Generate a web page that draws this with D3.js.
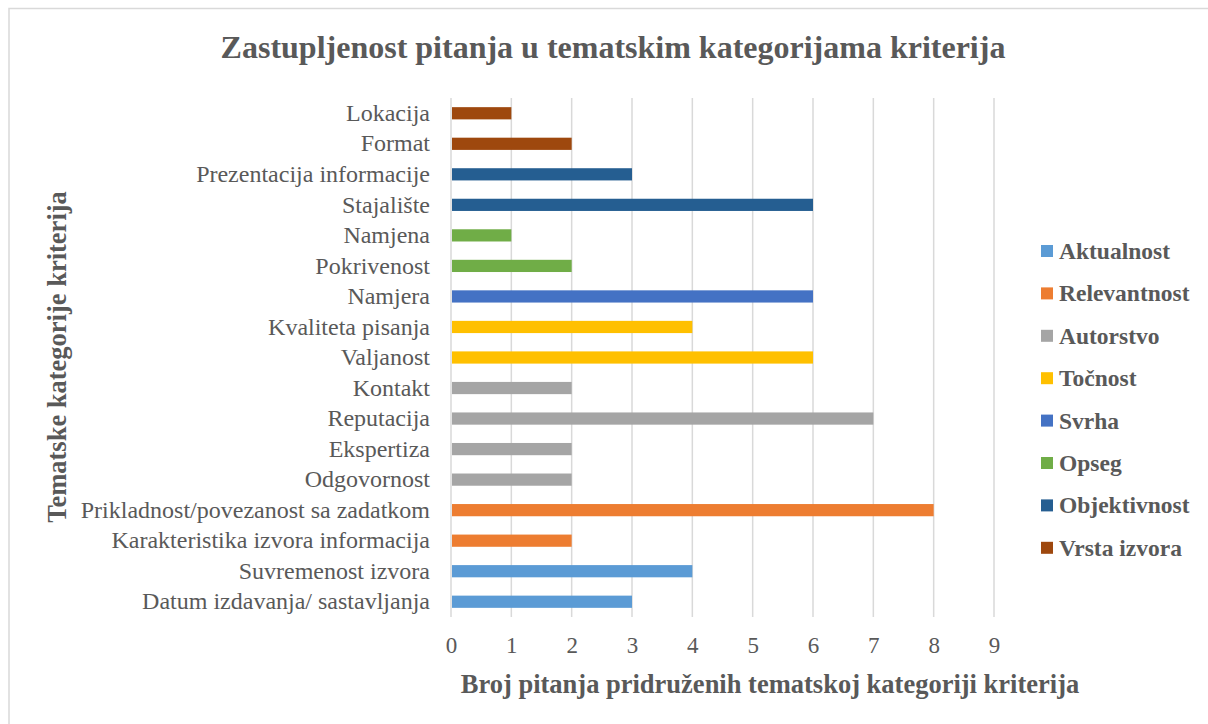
<!DOCTYPE html>
<html>
<head>
<meta charset="utf-8">
<script src="https://cdn.jsdelivr.net/npm/d3@7"></script>
<style>
  body { margin: 0; background: #fff; overflow: hidden; }
  svg text { font-family: "Liberation Serif", "DejaVu Serif", serif !important; fill: #595959; }
</style>
</head>
<body>
<svg id="chart" width="1208" height="724"></svg>
<script>
// categories bottom → top, with their series and values
const categories = [
  'Datum izdavanja/ sastavljanja', 'Suvremenost izvora',
  'Karakteristika izvora informacija', 'Prikladnost/povezanost sa zadatkom',
  'Odgovornost', 'Ekspertiza', 'Reputacija', 'Kontakt',
  'Valjanost', 'Kvaliteta pisanja', 'Namjera',
  'Pokrivenost', 'Namjena', 'Stajalište', 'Prezentacija informacije',
  'Format', 'Lokacija'
];
const categorySeries = [
  'Aktualnost', 'Aktualnost', 'Relevantnost', 'Relevantnost',
  'Autorstvo', 'Autorstvo', 'Autorstvo', 'Autorstvo',
  'Točnost', 'Točnost', 'Svrha', 'Opseg', 'Opseg',
  'Objektivnost', 'Objektivnost', 'Vrsta izvora', 'Vrsta izvora'
];
const values = [3, 4, 2, 8, 2, 2, 7, 2, 6, 4, 6, 2, 1, 6, 3, 2, 1];

const seriesNames = ['Aktualnost', 'Relevantnost', 'Autorstvo', 'Točnost',
                     'Svrha', 'Opseg', 'Objektivnost', 'Vrsta izvora'];
const seriesColors = ['#5B9BD5', '#ED7D31', '#A5A5A5', '#FFC000',
                      '#4472C4', '#70AD47', '#255E91', '#9E480E'];
const xTicks = [0, 1, 2, 3, 4, 5, 6, 7, 8, 9];

const svg = d3.select('#chart');

// chart frame — only top and left edges fall inside the picture
svg.append('rect')
  .attr('x', 9).attr('y', 8.5)
  .attr('width', 1300).attr('height', 800)
  .attr('fill', '#fff')
  .attr('stroke', '#d9d9d9')
  .attr('stroke-width', 1.5);

const plot = { left: 451, right: 994, top: 98, bottom: 617 };

const x = d3.scaleLinear().domain([0, 9]).range([plot.left, plot.right]);
const y = d3.scaleBand()
  .domain(d3.range(categories.length).reverse())
  .range([plot.top, plot.bottom])
  .paddingInner(0.6).paddingOuter(0.3);
const color = d3.scaleOrdinal().domain(seriesNames).range(seriesColors);

// gridlines
svg.append('g')
  .selectAll('line')
  .data(xTicks)
  .join('line')
  .attr('x1', d => x(d)).attr('x2', d => x(d))
  .attr('y1', plot.top).attr('y2', plot.bottom)
  .attr('stroke', '#d9d9d9')
  .attr('stroke-width', 1.5);

// bars
svg.append('g')
  .selectAll('rect')
  .data(values)
  .join('rect')
  .attr('x', x(0) + 1)
  .attr('y', (d, i) => y(i))
  .attr('width', d => x(d) - x(0) - 1)
  .attr('height', y.bandwidth())
  .attr('fill', (d, i) => color(categorySeries[i]));

// x axis tick labels
const xAxis = svg.append('g')
  .attr('transform', `translate(0,${plot.bottom})`)
  .call(d3.axisBottom(x).tickValues(xTicks).tickSize(0).tickPadding(20));
xAxis.select('.domain').remove();
xAxis.selectAll('text')
  .attr('font-size', 23)
  .attr('fill', '#595959');

// y axis category labels
const yAxis = svg.append('g')
  .attr('transform', `translate(${plot.left},0)`)
  .call(d3.axisLeft(y).tickFormat(i => categories[i]).tickSize(0).tickPadding(21));
yAxis.select('.domain').remove();
yAxis.selectAll('text')
  .attr('font-size', 24)
  .attr('fill', '#595959');

// title
svg.append('text')
  .attr('x', 613).attr('y', 58)
  .attr('text-anchor', 'middle')
  .attr('font-size', 32)
  .attr('font-weight', 'bold')
  .text('Zastupljenost pitanja u tematskim kategorijama kriterija');

// axis titles
svg.append('text')
  .attr('x', 770).attr('y', 693)
  .attr('text-anchor', 'middle')
  .attr('font-size', 26.5)
  .attr('font-weight', 'bold')
  .text('Broj pitanja pridruženih tematskoj kategoriji kriterija');

svg.append('text')
  .attr('transform', 'translate(66,357) rotate(-90)')
  .attr('text-anchor', 'middle')
  .attr('font-size', 26.5)
  .attr('font-weight', 'bold')
  .text('Tematske kategorije kriterija');

// legend
const legend = svg.append('g')
  .selectAll('g')
  .data(seriesNames)
  .join('g')
  .attr('transform', (d, i) => `translate(1041,${251 + i * 42.4})`);
legend.append('rect')
  .attr('x', 0).attr('y', -6)
  .attr('width', 12).attr('height', 12)
  .attr('fill', d => color(d));
legend.append('text')
  .attr('x', 18).attr('y', 8)
  .attr('font-size', 23.5)
  .attr('font-weight', 'bold')
  .text(d => d);
</script>
</body>
</html>
